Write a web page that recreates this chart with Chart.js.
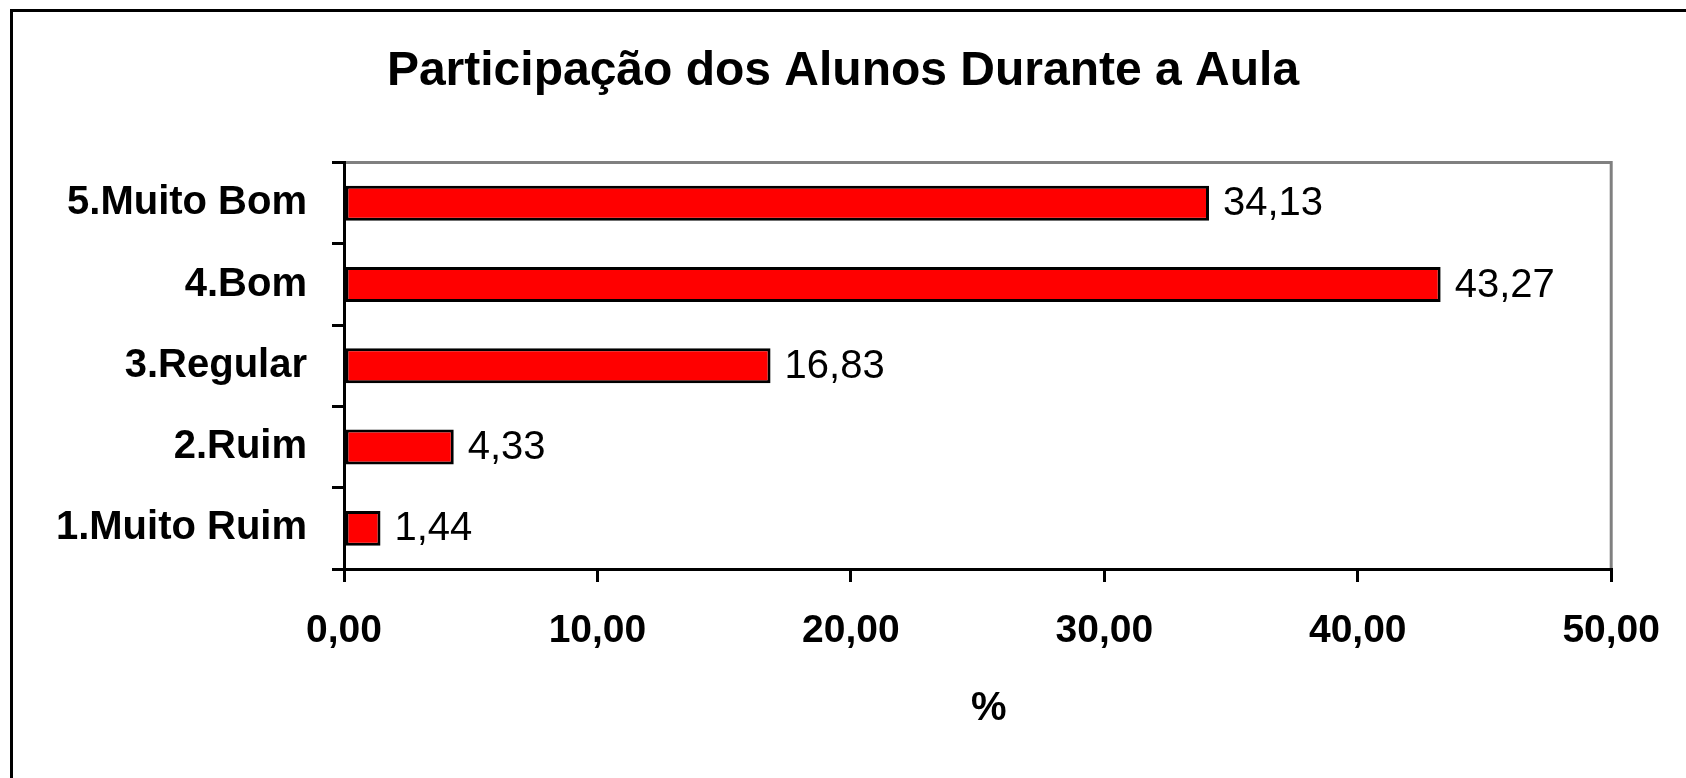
<!DOCTYPE html>
<html>
<head>
    <title>Participação dos Alunos Durante a Aula</title>
    <script src="https://cdn.jsdelivr.net/npm/chart.js"></script>
    <style>
        body { margin: 0; background: #fff; }
    </style>
</head>
<body>
    <canvas id="chart" width="1686" height="778"></canvas>

    <script>
        const categories = ['5.Muito Bom', '4.Bom', '3.Regular', '2.Ruim', '1.Muito Ruim'];
        const percentValues = [34.13, 43.27, 16.83, 4.33, 1.44];
        const xTicks = [0, 10, 20, 30, 40, 50];

        const FONT = "'Liberation Sans', Arial, sans-serif";

        function fmt(v) {
            return Number(v).toFixed(2).replace('.', ',');
        }

        // outer frame + gray top/right plot border
        const framePlugin = {
            id: 'frame',
            beforeDraw(chart) {
                const ctx = chart.ctx;
                const a = chart.chartArea;
                ctx.save();
                ctx.fillStyle = '#fff';
                ctx.fillRect(0, 0, chart.width, chart.height);
                ctx.strokeStyle = '#000';
                ctx.lineWidth = 3;
                ctx.strokeRect(11.5, 10.5, 2000, 2000);
                ctx.strokeStyle = '#808080';
                ctx.beginPath();
                ctx.moveTo(a.left, a.top);
                ctx.lineTo(a.right, a.top);
                ctx.lineTo(a.right, a.bottom);
                ctx.stroke();
                ctx.restore();
            }
        };

        // value labels to the right of the bars
        const valueLabels = {
            id: 'valueLabels',
            afterDatasetsDraw(chart) {
                const ctx = chart.ctx;
                const meta = chart.getDatasetMeta(0);
                ctx.save();
                ctx.font = '40px ' + FONT;
                ctx.fillStyle = '#000';
                ctx.textAlign = 'left';
                ctx.textBaseline = 'middle';
                meta.data.forEach((bar, i) => {
                    ctx.fillText(fmt(percentValues[i]), bar.x + 14, bar.y + 1);
                });
                ctx.restore();
            }
        };

        const ctx = document.getElementById('chart').getContext('2d');
        new Chart(ctx, {
            type: 'bar',
            data: {
                labels: categories,
                datasets: [{
                    data: percentValues,
                    backgroundColor: '#ff0000',
                    borderColor: '#000',
                    borderWidth: 3,
                    borderSkipped: false,
                    barPercentage: 0.43,
                    categoryPercentage: 1
                }]
            },
            options: {
                indexAxis: 'y',
                responsive: false,
                animation: false,
                layout: { padding: 0 },
                plugins: {
                    legend: { display: false },
                    tooltip: { enabled: false },
                    title: {
                        display: true,
                        text: 'Participação dos Alunos Durante a Aula',
                        color: '#000',
                        font: { family: FONT, size: 48, weight: 'bold' },
                        padding: { top: 43, bottom: 62 }
                    }
                },
                scales: {
                    x: {
                        min: 0,
                        max: 50,
                        afterBuildTicks(scale) {
                            scale.ticks = xTicks.map(v => ({ value: v }));
                        },
                        afterFit(scale) { scale.height = 209; },
                        grid: {
                            drawOnChartArea: false,
                            drawTicks: true,
                            tickLength: 13,
                            color: '#000',
                            lineWidth: 3
                        },
                        border: { display: true, color: '#000', width: 3 },
                        ticks: {
                            color: '#000',
                            padding: 26,
                            maxRotation: 0,
                            font: { family: FONT, size: 39, weight: 'bold' },
                            callback: v => fmt(v)
                        },
                        title: {
                            display: true,
                            text: '  %',
                            color: '#000',
                            font: { family: FONT, size: 40, weight: 'bold' },
                            padding: { top: 0, bottom: 45 }
                        }
                    },
                    y: {
                        afterFit(scale) { scale.width = 344; },
                        grid: {
                            offset: true,
                            drawOnChartArea: false,
                            drawTicks: true,
                            tickLength: 12,
                            color: '#000',
                            lineWidth: 3
                        },
                        border: { display: true, color: '#000', width: 3 },
                        ticks: {
                            color: '#000',
                            padding: 25,
                            font: { family: FONT, size: 40, weight: 'bold' }
                        }
                    },
                    // empty right-hand spacer so the plot ends where the reference does
                    yRight: {
                        position: 'right',
                        afterFit(scale) { scale.width = 73; },
                        grid: { display: false },
                        border: { display: false },
                        ticks: { display: false }
                    }
                }
            },
            plugins: [framePlugin, valueLabels]
        });
    </script>
</body>
</html>
